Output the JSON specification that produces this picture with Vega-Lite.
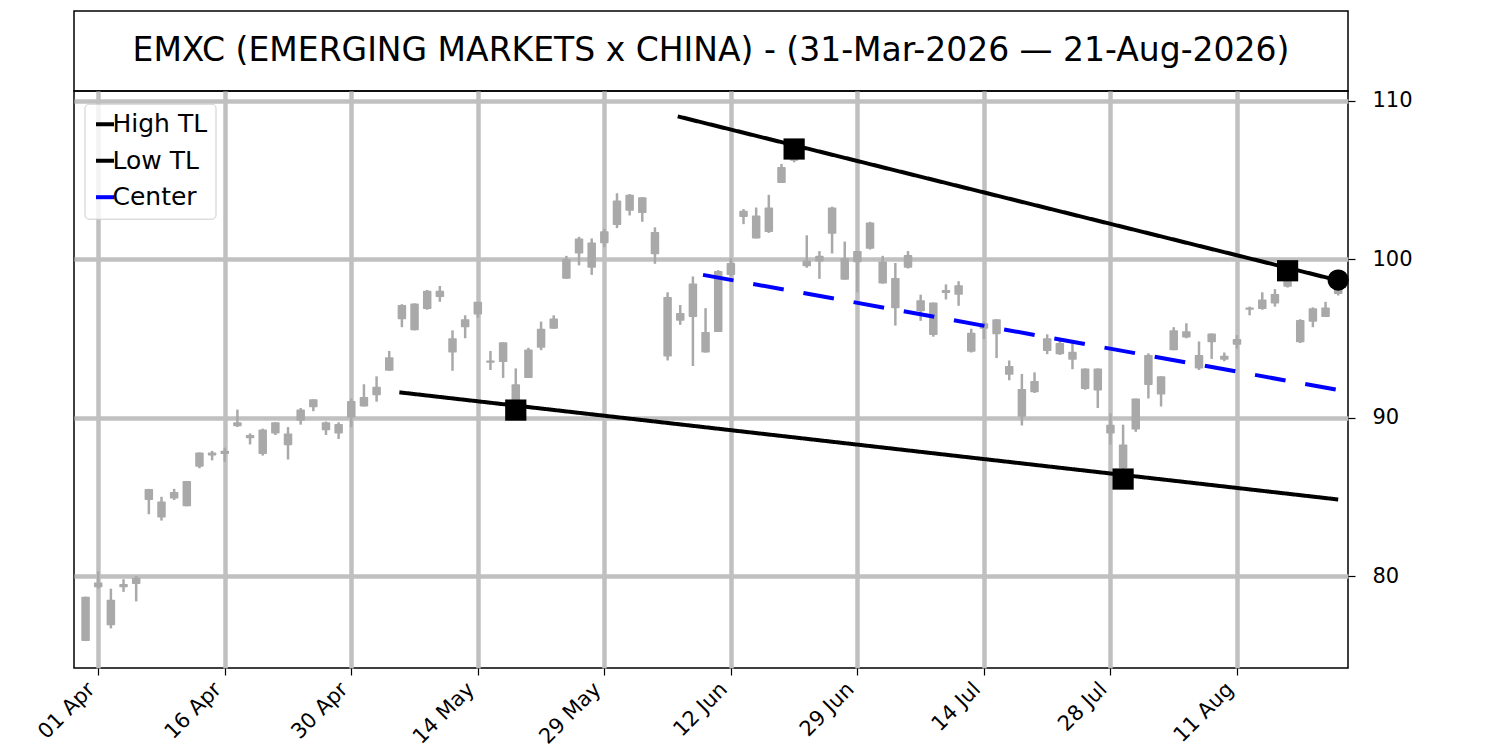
{
  "$schema": "https://vega.github.io/schema/vega-lite/v6.json",
  "padding": {"left": 33, "top": 10, "right": 10, "bottom": 5},
  "background": "white",
  "bounds": "flush",
  "spacing": 0,
  "config": {
    "font": "DejaVu Sans",
    "view": {"stroke": "black", "strokeWidth": 1.5},
    "axis": {"domain": false, "labelColor": "black", "tickColor": "black", "tickWidth": 1.2, "tickSize": 7, "labelFontSize": 21, "gridColor": "#c0c0c0", "gridWidth": 4.5, "gridOpacity": 1, "title": null},
    "legend": {"orient": "none", "legendX": 10.5, "legendY": 92.7, "padding": 8, "rowPadding": 10.5, "labelFontSize": 25, "labelColor": "black", "labelOffset": -5, "symbolType": "stroke", "symbolSize": 324, "symbolStrokeWidth": 4, "fillColor": "rgba(255,255,255,0.8)", "strokeColor": "#cccccc", "cornerRadius": 4, "title": null}
  },
  "datasets": {
    "candles": [
      {"i":0,"o":75.9,"h":78.7,"l":75.9,"c":78.7},
      {"i":1,"o":79.3,"h":80.3,"l":79.2,"c":79.6},
      {"i":2,"o":78.5,"h":79.2,"l":76.7,"c":76.9},
      {"i":3,"o":79.3,"h":79.8,"l":79.0,"c":79.5},
      {"i":4,"o":79.5,"h":80.0,"l":78.4,"c":79.9},
      {"i":5,"o":85.5,"h":85.5,"l":83.9,"c":84.8},
      {"i":6,"o":84.7,"h":85.0,"l":83.5,"c":83.7},
      {"i":7,"o":84.9,"h":85.5,"l":84.8,"c":85.3},
      {"i":8,"o":84.4,"h":86.0,"l":84.4,"c":86.0},
      {"i":9,"o":86.9,"h":87.8,"l":86.8,"c":87.8},
      {"i":10,"o":87.6,"h":87.9,"l":87.3,"c":87.8},
      {"i":11,"o":87.7,"h":88.1,"l":87.2,"c":87.9},
      {"i":12,"o":89.7,"h":90.5,"l":89.4,"c":89.45},
      {"i":13,"o":88.9,"h":89.0,"l":88.3,"c":88.7},
      {"i":14,"o":87.7,"h":89.3,"l":87.6,"c":89.25},
      {"i":15,"o":89.0,"h":89.7,"l":88.9,"c":89.7},
      {"i":16,"o":89.0,"h":89.4,"l":87.35,"c":88.25},
      {"i":17,"o":89.8,"h":90.6,"l":89.55,"c":90.5},
      {"i":18,"o":91.15,"h":91.15,"l":90.4,"c":90.65},
      {"i":19,"o":89.7,"h":89.75,"l":88.9,"c":89.2},
      {"i":20,"o":89.0,"h":89.7,"l":88.65,"c":89.6},
      {"i":21,"o":90.0,"h":91.2,"l":89.4,"c":91.05},
      {"i":22,"o":90.7,"h":92.1,"l":90.7,"c":91.3},
      {"i":23,"o":91.4,"h":92.6,"l":91.0,"c":91.95},
      {"i":24,"o":92.95,"h":94.2,"l":92.95,"c":93.8},
      {"i":25,"o":96.2,"h":97.15,"l":95.7,"c":97.1},
      {"i":26,"o":97.2,"h":97.2,"l":95.5,"c":95.5},
      {"i":27,"o":96.85,"h":98.05,"l":96.8,"c":98.0},
      {"i":28,"o":97.6,"h":98.3,"l":97.3,"c":98.0},
      {"i":29,"o":95.0,"h":95.5,"l":92.95,"c":94.1},
      {"i":30,"o":95.7,"h":96.45,"l":95.0,"c":96.2},
      {"i":31,"o":96.5,"h":97.3,"l":96.3,"c":97.3},
      {"i":32,"o":93.6,"h":94.2,"l":93.0,"c":93.45},
      {"i":33,"o":94.75,"h":94.75,"l":92.5,"c":93.5},
      {"i":34,"o":92.1,"h":93.1,"l":90.45,"c":90.9},
      {"i":35,"o":92.5,"h":94.4,"l":92.5,"c":94.3},
      {"i":36,"o":94.4,"h":96.05,"l":94.25,"c":95.6},
      {"i":37,"o":95.6,"h":96.45,"l":95.6,"c":96.25},
      {"i":38,"o":98.75,"h":100.2,"l":98.75,"c":100.0},
      {"i":39,"o":100.35,"h":101.4,"l":99.6,"c":101.3},
      {"i":40,"o":101.05,"h":101.3,"l":99.0,"c":99.45},
      {"i":41,"o":101.0,"h":101.9,"l":100.75,"c":101.75},
      {"i":42,"o":102.15,"h":104.15,"l":101.95,"c":103.7},
      {"i":43,"o":104.05,"h":104.1,"l":102.75,"c":103.05},
      {"i":44,"o":103.9,"h":103.9,"l":102.35,"c":102.9},
      {"i":45,"o":101.7,"h":102.0,"l":99.7,"c":100.3},
      {"i":46,"o":97.6,"h":97.9,"l":93.6,"c":93.85},
      {"i":47,"o":96.1,"h":97.1,"l":95.85,"c":96.6},
      {"i":48,"o":96.35,"h":98.9,"l":93.25,"c":98.45},
      {"i":49,"o":95.4,"h":96.9,"l":94.1,"c":94.1},
      {"i":50,"o":95.4,"h":99.3,"l":95.4,"c":99.25},
      {"i":51,"o":99.0,"h":100.05,"l":98.9,"c":99.75},
      {"i":52,"o":102.65,"h":103.15,"l":102.2,"c":103.05},
      {"i":53,"o":102.75,"h":103.25,"l":101.3,"c":101.3},
      {"i":54,"o":101.7,"h":104.05,"l":101.65,"c":103.25},
      {"i":55,"o":104.8,"h":106.0,"l":104.8,"c":105.8},
      {"i":56,"o":106.2,"h":106.95,"l":106.1,"c":106.8},
      {"i":57,"o":99.9,"h":101.5,"l":99.45,"c":99.55},
      {"i":58,"o":99.85,"h":100.5,"l":98.75,"c":100.2},
      {"i":59,"o":103.25,"h":103.3,"l":100.35,"c":101.6},
      {"i":60,"o":100.05,"h":101.1,"l":98.7,"c":98.7},
      {"i":61,"o":99.8,"h":100.5,"l":97.9,"c":100.5},
      {"i":62,"o":100.65,"h":102.35,"l":100.6,"c":102.3},
      {"i":63,"o":99.85,"h":100.2,"l":98.45,"c":98.45},
      {"i":64,"o":98.8,"h":99.75,"l":95.8,"c":96.9},
      {"i":65,"o":99.45,"h":100.5,"l":99.4,"c":100.25},
      {"i":66,"o":97.4,"h":97.75,"l":96.1,"c":96.7},
      {"i":67,"o":97.25,"h":97.25,"l":95.1,"c":95.2},
      {"i":68,"o":97.85,"h":98.4,"l":97.45,"c":98.05},
      {"i":69,"o":97.75,"h":98.6,"l":97.05,"c":98.35},
      {"i":70,"o":95.35,"h":95.6,"l":94.1,"c":94.15},
      {"i":71,"o":95.95,"h":96.05,"l":94.95,"c":95.6},
      {"i":72,"o":96.2,"h":96.2,"l":93.75,"c":95.25},
      {"i":73,"o":93.25,"h":93.6,"l":92.35,"c":92.7},
      {"i":74,"o":90.05,"h":92.75,"l":89.5,"c":91.8},
      {"i":75,"o":91.6,"h":92.85,"l":91.55,"c":92.3},
      {"i":76,"o":94.2,"h":95.25,"l":94.0,"c":95.0},
      {"i":77,"o":94.7,"h":94.95,"l":93.95,"c":94.0},
      {"i":78,"o":94.15,"h":94.7,"l":93.05,"c":93.65},
      {"i":79,"o":93.1,"h":93.1,"l":91.75,"c":91.8},
      {"i":80,"o":91.7,"h":93.1,"l":90.6,"c":93.1},
      {"i":81,"o":89.55,"h":90.25,"l":88.3,"c":89.0},
      {"i":82,"o":88.3,"h":89.55,"l":86.1,"c":86.8},
      {"i":83,"o":89.25,"h":91.2,"l":89.1,"c":91.2},
      {"i":84,"o":92.05,"h":94.05,"l":91.2,"c":93.95},
      {"i":85,"o":92.6,"h":92.6,"l":90.7,"c":91.45},
      {"i":86,"o":94.25,"h":95.7,"l":94.25,"c":95.5},
      {"i":87,"o":95.05,"h":95.95,"l":95.0,"c":95.45},
      {"i":88,"o":93.95,"h":94.8,"l":93.0,"c":93.1},
      {"i":89,"o":94.75,"h":95.3,"l":93.7,"c":95.3},
      {"i":90,"o":93.65,"h":94.1,"l":93.55,"c":93.9},
      {"i":91,"o":94.6,"h":95.2,"l":94.35,"c":94.95},
      {"i":92,"o":96.95,"h":97.0,"l":96.45,"c":96.8},
      {"i":93,"o":96.85,"h":97.9,"l":96.8,"c":97.45},
      {"i":94,"o":97.2,"h":98.1,"l":97.0,"c":97.8},
      {"i":95,"o":98.25,"h":99.25,"l":98.2,"c":99.2},
      {"i":96,"o":94.75,"h":96.2,"l":94.7,"c":96.15},
      {"i":97,"o":96.05,"h":96.95,"l":95.7,"c":96.9},
      {"i":98,"o":96.35,"h":97.3,"l":96.35,"c":96.95},
      {"i":99,"o":97.8,"h":98.7,"l":97.7,"c":98.65}
    ],
    "lines": [
      {"s":"High TL","i":46.8,"v":109.0},
      {"s":"High TL","i":99,"v":98.65},
      {"s":"Low TL","i":24.8,"v":91.59},
      {"s":"Low TL","i":99,"v":84.83},
      {"s":"Center","i":48.8,"v":99.0},
      {"s":"Center","i":99,"v":91.74}
    ],
    "pivots": [
      {"i":34,"v":90.47,"k":"pivot"},
      {"i":56,"v":106.94,"k":"pivot"},
      {"i":82,"v":86.12,"k":"pivot"},
      {"i":95,"v":99.26,"k":"pivot"},
      {"i":99,"v":98.67,"k":"last"}
    ]
  },
  "vconcat": [
    {
      "width": 1274,
      "height": 80,
      "data": {"values": [{"t": "EMXC (EMERGING MARKETS x CHINA) - (31-Mar-2026 — 21-Aug-2026)"}]},
      "layer": [
        {
          "mark": {"type": "rect", "fill": null, "fillOpacity": 0, "stroke": "black", "strokeWidth": 1.5}
        },
        {
          "mark": {"type": "text", "fontSize": 33, "color": "black", "font": "DejaVu Sans"},
          "encoding": {"text": {"field": "t"}}
        }
      ]
    },
    {
      "width": 1274,
      "height": 577,
      "encoding": {
        "x": {
          "field": "i", "type": "quantitative",
          "scale": {"domain": [-0.52, 99.38], "nice": false, "zero": false},
          "axis": {
            "values": [1, 11, 21, 31, 41, 51, 61, 71, 81, 91],
            "labelExpr": "['01 Apr','16 Apr','30 Apr','14 May','29 May','12 Jun','29 Jun','14 Jul','28 Jul','11 Aug'][round((datum.value-1)/10)]",
            "labelAngle": -45, "labelAlign": "right", "labelBaseline": "bottom", "labelPadding": 18, "grid": true
          }
        }
      },
      "layer": [
        {
          "data": {"name": "candles"},
          "mark": {"type": "rule", "color": "#a9a9a9", "strokeWidth": 2.5},
          "encoding": {
            "y": {"field": "l", "type": "quantitative",
              "scale": {"domain": [74.2, 110.6], "nice": false, "zero": false},
              "axis": {"orient": "right", "values": [80, 90, 100, 110], "labelPadding": 17, "grid": true}},
            "y2": {"field": "h"}
          }
        },
        {
          "data": {"name": "candles"},
          "mark": {"type": "bar", "color": "#a9a9a9", "size": 8.5, "cornerRadius": 1},
          "encoding": {
            "y": {"field": "o", "type": "quantitative"},
            "y2": {"field": "c"}
          }
        },
        {
          "data": {"name": "lines"},
          "mark": {"type": "line", "strokeWidth": 4},
          "encoding": {
            "y": {"field": "v", "type": "quantitative"},
            "color": {"field": "s", "type": "nominal",
              "scale": {"domain": ["High TL", "Low TL", "Center"], "range": ["black", "black", "blue"]}},
            "strokeDash": {"field": "s", "type": "nominal",
              "scale": {"domain": ["High TL", "Low TL", "Center"], "range": [[1, 0], [1, 0], [31, 20]]}}
          }
        },
        {
          "data": {"name": "pivots"},
          "mark": {"type": "point", "filled": true, "opacity": 1, "color": "black", "size": 450},
          "encoding": {
            "y": {"field": "v", "type": "quantitative"},
            "shape": {"field": "k", "type": "nominal",
              "scale": {"domain": ["pivot", "last"], "range": ["square", "circle"]}, "legend": null}
          }
        }
      ]
    }
  ]
}
